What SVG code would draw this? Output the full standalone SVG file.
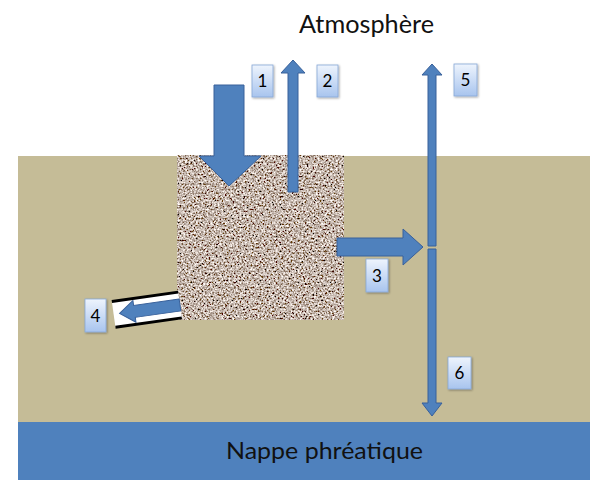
<svg xmlns="http://www.w3.org/2000/svg" width="600" height="492" viewBox="0 0 600 492">
<defs>
  <linearGradient id="lblGrad" x1="0" y1="0" x2="0" y2="1">
    <stop offset="0" stop-color="#eef4fd"/>
    <stop offset="1" stop-color="#a8c4ee"/>
  </linearGradient>
  <filter id="grain" x="0" y="0" width="100%" height="100%">
    <feTurbulence type="fractalNoise" baseFrequency="0.55" numOctaves="2" seed="7" result="n"/>
    <feColorMatrix in="n" type="matrix" values="2.0 0 0 0 -0.45  2.0 0 0 0 -0.53  2.0 0 0 0 -0.58  0 0 0 0 1"/>
  </filter>
  <filter id="shadow" x="-30%" y="-30%" width="160%" height="160%">
    <feDropShadow dx="1" dy="1" stdDeviation="0.8" flood-color="#000" flood-opacity="0.35"/>
  </filter>
</defs>
<style>
  .arrow { fill: #4f81bd; stroke: #38609a; stroke-width: 1; }
  .lbl rect { fill: url(#lblGrad); stroke: #88a8d8; stroke-width: 0.8; filter: url(#shadow); }
  .lbl text { font-family: Lato, "Open Sans", sans-serif; font-size: 17px; fill: #000; text-anchor: middle; }
  .title { font-family: Lato, "Open Sans", sans-serif; fill: #111; }
</style>
<rect width="600" height="492" fill="#ffffff"/>

<g id="soil">
  <rect x="18" y="156" width="572" height="266" fill="#c5bc97"/>
</g>
<g id="nappe">
  <rect x="18" y="422" width="572" height="58" fill="#4f81bd"/>
  <text class="title" x="324.5" y="459" font-size="24" text-anchor="middle" textLength="197" lengthAdjust="spacingAndGlyphs" fill="#0f1a33">Nappe phréatique</text>
</g>
<g id="atmosphere">
  <text class="title" x="366.5" y="33" font-size="25" text-anchor="middle" textLength="135" lengthAdjust="spacingAndGlyphs">Atmosphère</text>
</g>
<g id="gravel">
  <rect x="177" y="155" width="167" height="165" fill="#a8998d" filter="url(#grain)"/>
</g>

<g id="connectors">
  <!-- arrow 1: big down -->
  <path class="arrow" d="M214,85 H244 V156 H261 L229,186 L199,156 H214 Z"/>
  <!-- arrow 2: up -->
  <path class="arrow" d="M288,192 V73 H281 L293,60 L305,73 H298 V192 Z"/>
  <!-- arrow 3: right -->
  <path class="arrow" d="M337,238 H403 V229 L423,247 L403,265 V256 H337 Z"/>
  <!-- arrow 5: up -->
  <path class="arrow" d="M428,246 V75 H422 L432,64 L442,75 H436 V246 Z"/>
  <!-- arrow 6: down -->
  <path class="arrow" d="M428,249 V403 H422 L432,416 L442,403 H436 V249 Z"/>
  <!-- arrow 4: drain pipe -->
  <g transform="translate(180,305) rotate(-8)">
    <polygon points="0,-13 -67,-13 -67,13 0,13" fill="#ffffff"/>
    <line x1="0" y1="-13" x2="-67" y2="-13" stroke="#000" stroke-width="3"/>
    <line x1="0" y1="13" x2="-67" y2="13" stroke="#000" stroke-width="3"/>
    <path class="arrow" d="M0,-6 H-46 V-11 L-61,0 L-46,11 V6 H0 Z"/>
  </g>
</g>

<g id="label1" class="lbl"><rect x="252" y="65" width="21" height="32"/><text x="262.5" y="87">1</text></g>
<g id="label2" class="lbl"><rect x="317" y="65" width="21" height="32"/><text x="327.5" y="87">2</text></g>
<g id="label3" class="lbl"><rect x="366" y="259" width="22" height="33"/><text x="377" y="281.5">3</text></g>
<g id="label4" class="lbl"><rect x="85" y="299" width="21" height="33"/><text x="95.5" y="321.5">4</text></g>
<g id="label5" class="lbl"><rect x="454" y="64" width="23" height="32"/><text x="465.5" y="86">5</text></g>
<g id="label6" class="lbl"><rect x="448" y="357" width="23" height="32"/><text x="459.5" y="379">6</text></g>
</svg>
